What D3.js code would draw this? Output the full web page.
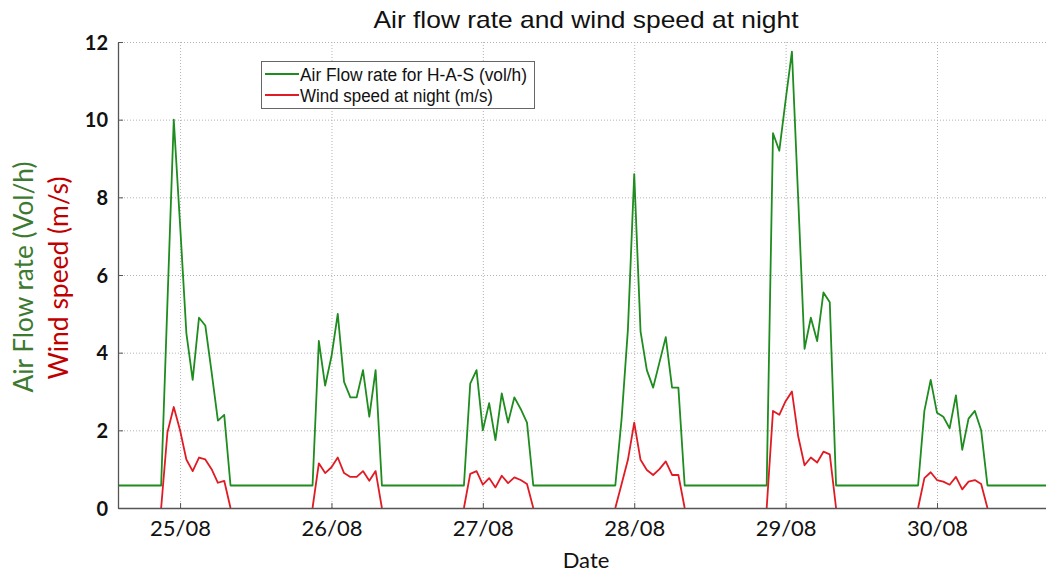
<!DOCTYPE html>
<html>
<head>
<meta charset="utf-8">
<script src="https://cdn.jsdelivr.net/npm/d3@7"></script>
<style>
  html, body { margin: 0; padding: 0; background: #fff; }
  svg { display: block; }
</style>
</head>
<body>
<svg id="chart" width="1046" height="573"></svg>
<script>
// dias (agosto) e horas da noite em torno da meia-noite
var dias = [25, 26, 27, 28, 29, 30];
var horas = [-3, -2, -1, 0, 1, 2, 3, 4, 5, 6, 7, 8];
var fluxoBase = 0.58;
var inicioEixo = 24.59, fimEixo = 30.72;
var ticksY = [0, 2, 4, 6, 8, 10, 12];

// taxa de renovação de ar (vol/h) por noite
var fluxo25 = [0.58, 5.3, 10.0, 7.3, 4.5, 3.3, 4.9, 4.7, 3.5, 2.25, 2.4, 0.58];
var fluxo26 = [0.58, 4.3, 3.15, 3.9, 5.0, 3.25, 2.85, 2.85, 3.55, 2.35, 3.55, 0.58];
var fluxo27 = [0.58, 3.2, 3.55, 2.0, 2.7, 1.75, 2.95, 2.2, 2.85, 2.55, 2.2, 0.58];
var fluxo28 = [0.58, 2.3, 4.6, 8.6, 4.55, 3.55, 3.1, 3.75, 4.4, 3.1, 3.1, 0.58];
var fluxo29 = [0.58, 9.65, 9.2, 10.5, 11.75, 7.95, 4.1, 4.9, 4.3, 5.55, 5.3, 0.58];
var fluxo30 = [0.58, 2.5, 3.3, 2.45, 2.35, 2.05, 2.9, 1.5, 2.3, 2.5, 2.0, 0.58];

// velocidade do vento à noite (m/s)
var vento25 = [0, 1.95, 2.6, 2.0, 1.25, 0.95, 1.3, 1.25, 1.0, 0.65, 0.7, 0];
var vento26 = [0, 1.15, 0.9, 1.05, 1.3, 0.9, 0.8, 0.8, 0.95, 0.7, 0.95, 0];
var vento27 = [0, 0.88, 0.95, 0.6, 0.77, 0.53, 0.83, 0.64, 0.79, 0.72, 0.62, 0];
var vento28 = [0, 0.62, 1.24, 2.2, 1.24, 0.98, 0.85, 1.0, 1.2, 0.85, 0.85, 0];
var vento29 = [0, 2.5, 2.4, 2.75, 3.0, 1.84, 1.1, 1.3, 1.17, 1.45, 1.38, 0];
var vento30 = [0, 0.77, 0.92, 0.72, 0.68, 0.6, 0.8, 0.48, 0.68, 0.72, 0.62, 0];

var fluxos = [fluxo25, fluxo26, fluxo27, fluxo28, fluxo29, fluxo30];
var ventos = [vento25, vento26, vento27, vento28, vento29, vento30];

var corVerde = "#1e8c1e", corVermelho = "#e01b24";

var svg = d3.select("#chart"),
    margin = {top: 42, right: 0, bottom: 65, left: 118},
    width = +svg.attr("width") - margin.left - margin.right,
    height = +svg.attr("height") - margin.top - margin.bottom,
    g = svg.append("g").attr("transform", "translate(" + margin.left + "," + margin.top + ")");

var x = d3.scaleLinear().domain([inicioEixo, fimEixo]).range([0, width]);
var y = d3.scaleLinear().domain([0, 12]).range([height, 0]);

// grade pontilhada
g.append("g").selectAll("line.h")
  .data(ticksY.slice(1))
  .enter().append("line")
    .attr("x1", 0).attr("x2", width)
    .attr("y1", function(d) { return y(d) + 0.5; })
    .attr("y2", function(d) { return y(d) + 0.5; })
    .attr("stroke", "#b4b4b4").attr("stroke-dasharray", "1,2");

g.append("g").selectAll("line.v")
  .data(dias)
  .enter().append("line")
    .attr("x1", function(d) { return x(d) + 0.5; })
    .attr("x2", function(d) { return x(d) + 0.5; })
    .attr("y1", 0).attr("y2", height)
    .attr("stroke", "#b4b4b4").attr("stroke-dasharray", "1,2");

// montar as séries
var serieFluxo = [{t: inicioEixo, v: fluxoBase}];
var seriesVento = [];
dias.forEach(function(dia, i) {
  var noite = [];
  horas.forEach(function(h, j) {
    serieFluxo.push({t: dia + h / 24, v: fluxos[i][j]});
    noite.push({t: dia + h / 24, v: ventos[i][j]});
  });
  seriesVento.push(noite);
});
serieFluxo.push({t: fimEixo, v: fluxoBase});

var linha = d3.line()
  .x(function(d) { return x(d.t); })
  .y(function(d) { return y(d.v); });

g.append("path")
  .datum(serieFluxo)
  .attr("fill", "none")
  .attr("stroke", corVerde)
  .attr("stroke-width", 1.8)
  .attr("stroke-linejoin", "round")
  .attr("d", linha);

g.selectAll("path.vento")
  .data(seriesVento)
  .enter().append("path")
    .attr("class", "vento")
    .attr("fill", "none")
    .attr("stroke", corVermelho)
    .attr("stroke-width", 1.8)
    .attr("stroke-linejoin", "round")
    .attr("d", linha);

// eixos
var eixoX = g.append("g")
  .attr("transform", "translate(0," + height + ")")
  .call(d3.axisBottom(x).tickValues(dias).tickSizeInner(-5).tickSizeOuter(0).tickPadding(12)
    .tickFormat(function(d) { return d + "/08"; }));
eixoX.select(".domain").attr("stroke", "#555").attr("stroke-width", 1.3);
eixoX.selectAll(".tick line").attr("stroke", "#555");
eixoX.selectAll("text")
  .attr("fill", "#111")
  .style("font-family", "Lato, 'Open Sans', sans-serif")
  .style("font-size", "22px");

var eixoY = g.append("g")
  .call(d3.axisLeft(y).tickValues(ticksY).tickSizeInner(-5).tickSizeOuter(0).tickPadding(10));
eixoY.select(".domain").attr("stroke", "#555").attr("stroke-width", 1.3);
eixoY.selectAll(".tick line").attr("stroke", "#555");
eixoY.selectAll("text")
  .attr("fill", "#111")
  .attr("dy", "0.36em")
  .style("font-family", "Lato, 'Open Sans', sans-serif")
  .style("font-weight", "bold")
  .style("font-size", "20px");

// títulos
svg.append("text")
  .attr("x", 586)
  .attr("y", 28)
  .attr("text-anchor", "middle")
  .attr("textLength", 425)
  .attr("lengthAdjust", "spacingAndGlyphs")
  .style("font-family", "'Liberation Sans', Arial, sans-serif")
  .style("font-size", "24px")
  .attr("fill", "#111")
  .text("Air flow rate and wind speed at night");

svg.append("text")
  .attr("x", 586)
  .attr("y", 568)
  .attr("text-anchor", "middle")
  .style("font-family", "Lato, 'Open Sans', sans-serif")
  .style("font-size", "22px")
  .attr("fill", "#111")
  .text("Date");

svg.append("text")
  .attr("transform", "translate(33,277) rotate(-90)")
  .attr("text-anchor", "middle")
  .attr("textLength", 231)
  .attr("lengthAdjust", "spacingAndGlyphs")
  .style("font-family", "Lato, 'Open Sans', sans-serif")
  .style("font-size", "26px")
  .attr("fill", "#3d7a31")
  .text("Air Flow rate (Vol/h)");

svg.append("text")
  .attr("transform", "translate(68,278) rotate(-90)")
  .attr("text-anchor", "middle")
  .attr("textLength", 203)
  .attr("lengthAdjust", "spacingAndGlyphs")
  .style("font-family", "Lato, 'Open Sans', sans-serif")
  .style("font-size", "26px")
  .attr("fill", "#c00000")
  .text("Wind speed (m/s)");

// legenda
var legenda = svg.append("g");
legenda.append("rect")
  .attr("x", 261.5).attr("y", 61.5)
  .attr("width", 273).attr("height", 47)
  .attr("fill", "#fff")
  .attr("stroke", "#666");

var itens = [
  {nome: "Air Flow rate for H-A-S (vol/h)", cor: corVerde, y: 74, largura: 227},
  {nome: "Wind speed at night (m/s)", cor: corVermelho, y: 95, largura: 193}
];
var item = legenda.selectAll("g.item")
  .data(itens)
  .enter().append("g")
    .attr("class", "item");
item.append("line")
  .attr("x1", 265).attr("x2", 299)
  .attr("y1", function(d) { return d.y; })
  .attr("y2", function(d) { return d.y; })
  .attr("stroke", function(d) { return d.cor; })
  .attr("stroke-width", 2);
item.append("text")
  .attr("x", 300)
  .attr("y", function(d) { return d.y + 7; })
  .attr("textLength", function(d) { return d.largura; })
  .attr("lengthAdjust", "spacingAndGlyphs")
  .style("font-family", "'Liberation Sans', Arial, sans-serif")
  .style("font-size", "18px")
  .attr("fill", "#111")
  .text(function(d) { return d.nome; });
</script>
</body>
</html>
